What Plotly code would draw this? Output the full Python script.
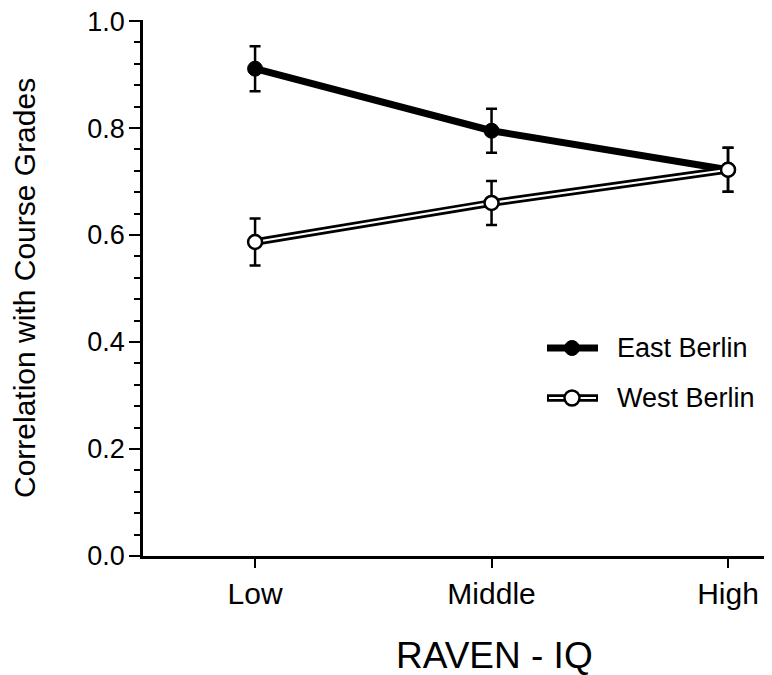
import plotly.graph_objects as go

categories = ["Low", "Middle", "High"]
east_values = [0.911, 0.795, 0.722]
east_errors = [0.042, 0.041, 0.041]
west_values = [0.587, 0.660, 0.722]
west_errors = [0.044, 0.041, 0.041]
y_ticks = [0.0, 0.2, 0.4, 0.6, 0.8, 1.0]
y_minor_ticks = [0.04, 0.08, 0.12, 0.16, 0.24, 0.28, 0.32, 0.36,
                 0.44, 0.48, 0.52, 0.56, 0.64, 0.68, 0.72, 0.76,
                 0.84, 0.88, 0.92, 0.96]

FONT = "Liberation Sans, Arial, Helvetica, sans-serif"
OFF = 8  # page body margin offset
W, H = 772 - OFF, 675 - OFF
L, R, T = 143 - OFF, 0, 20 - OFF
PH = 536
B = H - T - PH
PW = W - L - R


def px(x):
    # x in reference-picture pixels -> paper coords
    return (x - OFF - L) / PW


def py(y):
    return (T + PH - (y - OFF)) / PH


fig = go.Figure()

fig.add_trace(go.Scatter(
    x=categories, y=east_values, mode="lines+markers", name="East Berlin",
    line=dict(color="black", width=7),
    marker=dict(color="black", size=15, line=dict(color="black", width=1)),
    error_y=dict(type="data", array=east_errors, visible=True,
                 color="black", thickness=2.5, width=5.5),
    showlegend=False,
))
fig.add_trace(go.Scatter(
    x=categories, y=west_values, mode="lines", name="West Berlin",
    line=dict(color="black", width=7.5),
    error_y=dict(type="data", array=west_errors, visible=True,
                 color="black", thickness=2.5, width=5.5),
    showlegend=False,
))
fig.add_trace(go.Scatter(
    x=categories, y=west_values, mode="lines+markers", name="West Berlin",
    line=dict(color="white", width=2.2),
    marker=dict(color="white", size=14, line=dict(color="black", width=2.5)),
    showlegend=False,
))

shapes = []
ly1, ly2 = 348, 398
lx0, lx1, lmx = 547, 598, 572
r = 7.5
shapes.append(dict(type="line", xref="paper", yref="paper",
                   x0=px(lx0), x1=px(lx1), y0=py(ly1), y1=py(ly1),
                   line=dict(color="black", width=7)))
shapes.append(dict(type="circle", xref="paper", yref="paper",
                   x0=px(lmx - r), x1=px(lmx + r), y0=py(ly1 + r), y1=py(ly1 - r),
                   fillcolor="black", line=dict(color="black", width=1)))
shapes.append(dict(type="line", xref="paper", yref="paper",
                   x0=px(lx0), x1=px(lx1), y0=py(ly2), y1=py(ly2),
                   line=dict(color="black", width=7.5)))
shapes.append(dict(type="line", xref="paper", yref="paper",
                   x0=px(lx0 + 2), x1=px(lx1 - 2), y0=py(ly2), y1=py(ly2),
                   line=dict(color="white", width=2.2)))
shapes.append(dict(type="circle", xref="paper", yref="paper",
                   x0=px(lmx - r), x1=px(lmx + r), y0=py(ly2 + r), y1=py(ly2 - r),
                   fillcolor="white", line=dict(color="black", width=2.5)))

annotations = [
    dict(text="East Berlin", xref="paper", yref="paper", x=px(615), y=py(ly1),
         xanchor="left", yanchor="middle", showarrow=False,
         font=dict(family=FONT, size=27, color="black")),
    dict(text="West Berlin", xref="paper", yref="paper", x=px(615), y=py(ly2),
         xanchor="left", yanchor="middle", showarrow=False,
         font=dict(family=FONT, size=27, color="black")),
    dict(text="Correlation with Course Grades", xref="paper", yref="paper",
         x=px(24), y=0.5, textangle=-90, xanchor="center", yanchor="middle",
         showarrow=False, font=dict(family=FONT, size=30, color="black")),
    dict(text="RAVEN - IQ", xref="paper", yref="paper",
         x=px(494), y=py(655), xanchor="center", yanchor="middle",
         showarrow=False, font=dict(family=FONT, size=37, color="black")),
]

fig.update_layout(
    width=W, height=H,
    margin=dict(l=L, r=R, t=T, b=B, pad=0),
    paper_bgcolor="white", plot_bgcolor="white",
    font=dict(family=FONT, color="black"),
    shapes=shapes, annotations=annotations,
    showlegend=False,
)
fig.update_xaxes(
    type="category", categoryorder="array", categoryarray=categories,
    range=[-0.474, 2.186], showgrid=False, zeroline=False,
    showline=True, linecolor="black", linewidth=2.5,
    ticks="outside", ticklen=9, tickwidth=2, tickcolor="black",
    tickfont=dict(family=FONT, size=30, color="black"),
)
fig.update_yaxes(
    range=[0, 1.002], showgrid=False, zeroline=False,
    showline=True, linecolor="black", linewidth=2.5,
    tickmode="array", tickvals=y_ticks,
    ticktext=[f"{v:.1f}" for v in y_ticks],
    ticks="outside", ticklen=11, tickwidth=2, tickcolor="black",
    ticklabelstandoff=-1, ticklabeloverflow="allow",
    tickfont=dict(family=FONT, size=27, color="black"),
    minor=dict(tickmode="array", tickvals=y_minor_ticks, ticks="outside",
               ticklen=6, tickwidth=2, tickcolor="black", showgrid=False),
)

fig.write_html("out.html")
